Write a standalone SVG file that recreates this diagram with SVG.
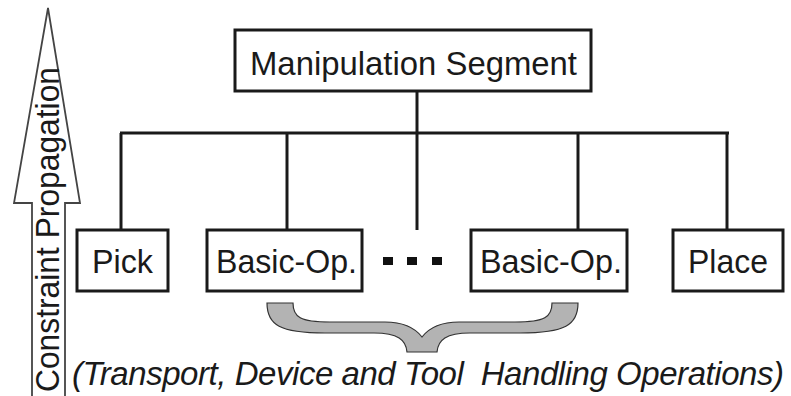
<svg xmlns="http://www.w3.org/2000/svg" width="791" height="396" viewBox="0 0 791 396">
<style>
.box{fill:#fff;stroke:#1a1a1a;stroke-width:3}
.lbl{font-family:"Liberation Sans",Arial,sans-serif;font-size:33px;fill:#1a1a1a}
.conn{stroke:#1a1a1a;stroke-width:3;fill:none}
</style>
<rect width="791" height="396" fill="#fff"/>
<g id="arrow">
<polygon points="48,8 80,203 65,203 65,400 32,400 32,203 14,203 48,8" fill="#fff" stroke="#444" stroke-width="1.8"/>
<text class="lbl" transform="translate(59,392) rotate(-90)" font-size="33" textLength="325" lengthAdjust="spacingAndGlyphs">Constraint Propagation</text>
</g>
<g id="connectors">
<line class="conn" x1="417" y1="91" x2="417" y2="133"/>
<line class="conn" x1="120" y1="133" x2="729" y2="133"/>
<line class="conn" x1="121" y1="133" x2="121" y2="230"/>
<line class="conn" x1="287" y1="133" x2="287" y2="230"/>
<line class="conn" x1="417" y1="133" x2="417" y2="230"/>
<line class="conn" x1="578" y1="133" x2="578" y2="230"/>
<line class="conn" x1="727" y1="133" x2="727" y2="230"/>
</g>
<g id="manipulation-segment">
<rect class="box" x="235" y="30" width="356" height="61"/>
<text class="lbl" x="250" y="75" textLength="327" lengthAdjust="spacingAndGlyphs">Manipulation Segment</text>
</g>
<g id="pick">
<rect class="box" x="77" y="230" width="91" height="61"/>
<text class="lbl" x="92" y="273" textLength="61" lengthAdjust="spacingAndGlyphs">Pick</text>
</g>
<g id="basic-op-1">
<rect class="box" x="207" y="230" width="155" height="61"/>
<text class="lbl" x="216" y="273" textLength="141" lengthAdjust="spacingAndGlyphs">Basic-Op.</text>
</g>
<g id="ellipsis">
<rect x="383" y="257" width="10" height="8" fill="#111"/>
<rect x="407" y="257" width="10" height="8" fill="#111"/>
<rect x="432" y="257" width="10" height="8" fill="#111"/>
</g>
<g id="basic-op-2">
<rect class="box" x="471" y="230" width="156" height="61"/>
<text class="lbl" x="480" y="273" textLength="142" lengthAdjust="spacingAndGlyphs">Basic-Op.</text>
</g>
<g id="place">
<rect class="box" x="673" y="230" width="110" height="61"/>
<text class="lbl" x="688" y="273" textLength="80" lengthAdjust="spacingAndGlyphs">Place</text>
</g>
<g id="brace">
<path d="M267,303 L293,303 C293,317 300,322 330,322 L385,322 C405,322 415,328 422,337 C429,328 439,322 459,322 L515,322 C545,322 552,317 552,303 L578,303 C578,325 565,333 520,333 L470,333 C446,333 438,340 437,352 L407,352 C406,340 398,333 374,333 L325,333 C280,333 267,325 267,303 Z" fill="#b3b3b3" stroke="#333" stroke-width="1.2"/>
</g>
<g id="caption">
<text class="lbl" x="72" y="385" font-size="24" font-style="italic" xml:space="preserve" textLength="712" lengthAdjust="spacing">(Transport, Device and Tool  Handling Operations)</text>
</g>
</svg>
